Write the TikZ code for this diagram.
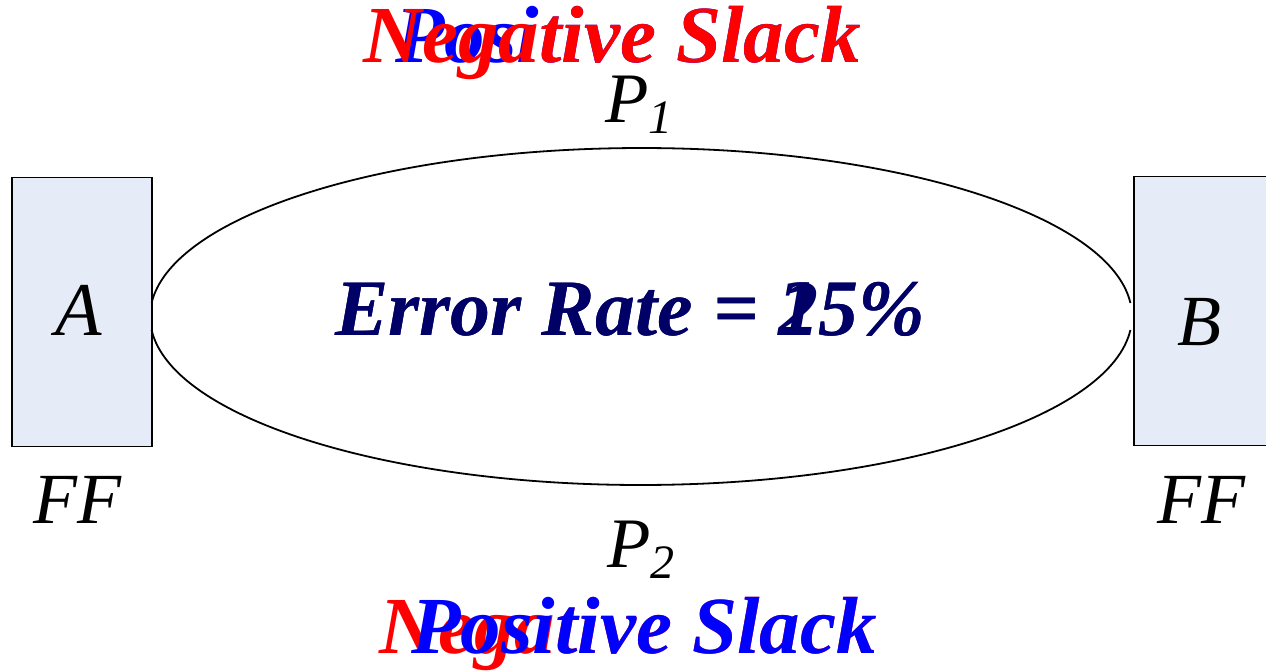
\documentclass[tikz,border=0pt]{standalone}
\usepackage{fontspec}
\setmainfont{Liberation Serif}
\definecolor{boxfill}{HTML}{E6ECF7}
\definecolor{ratecol}{HTML}{000066}
\begin{document}
\begin{tikzpicture}[x=1pt, y=-1pt,
    ffbox/.style={draw, line width=1.5pt, fill=boxfill, minimum width=140pt, minimum height=269pt, inner sep=0pt},
    lbl/.style={inner sep=0pt, font=\fontsize{72}{72}\selectfont\itshape},
    slack/.style={inner sep=0pt, anchor=base east, font=\fontsize{81}{81}\selectfont\bfseries\itshape},
    rate/.style={inner sep=0pt, anchor=base west, text=ratecol, font=\fontsize{80}{80}\selectfont\bfseries\itshape}
]
  \useasboundingbox (0,0) rectangle (1266,670);
  % flip-flops
  \node[ffbox] (boxA) at (82,312)   {};
  \node[ffbox] (boxB) at (1204,311) {};
  \node[lbl, anchor=base west, font=\fontsize{76}{76}\selectfont\itshape] (A) at (55,335) {A};
  \node[lbl, anchor=base west] (B) at (1177,345) {B};
  \node[lbl, anchor=base west] (ffA) at (33,523)   {FF};
  \node[lbl, anchor=base west] (ffB) at (1157,523) {FF};
  % the two paths
  \coordinate (p1s) at (1130.4,303);
  \coordinate (p2s) at (151.6,330);
  \draw[line width=1.8pt] (p1s) arc[start angle=4.6, end angle=175.4, x radius=491pt, y radius=168.5pt];
  \draw[line width=1.8pt] (p2s) arc[start angle=184.6, end angle=355.4, x radius=491pt, y radius=168.5pt];
  \node[lbl, anchor=base west, font=\fontsize{71}{71}\selectfont\itshape] (p1) at (605,122)
    {P\raisebox{-11pt}{\fontsize{48}{48}\selectfont 1}};
  \node[lbl, anchor=base west, font=\fontsize{71}{71}\selectfont\itshape] (p2) at (607,567)
    {P\raisebox{-11pt}{\fontsize{48}{48}\selectfont 2}};
  % slack labels
  \node[slack, text=blue] (pos1) at (861,62)  {Positive Slack};
  \node[slack, text=red]  (neg1) at (861,62)  {Negative Slack};
  \node[slack, text=red]  (neg2) at (877,653) {Negative Slack};
  \node[slack, text=blue] (pos2) at (877,653) {Positive Slack};
  % error rates
  \node[rate] (rate25) at (335,335) {Error Rate = 25\%};
  \node[rate] (rate15) at (335,335) {Error Rate = 15\%};
\end{tikzpicture}
\end{document}
